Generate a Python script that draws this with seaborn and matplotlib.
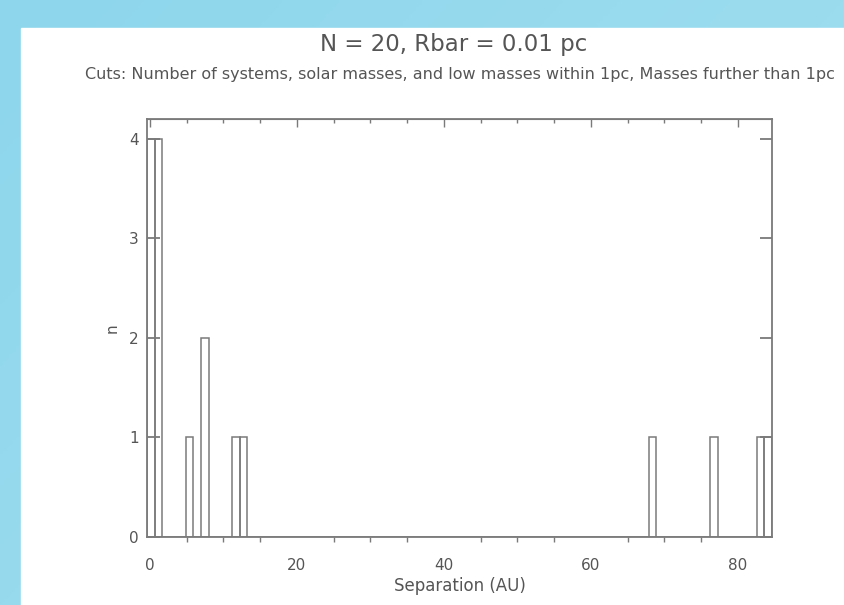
import numpy as np
import pandas as pd
import matplotlib.pyplot as plt
import seaborn as sns
from matplotlib.ticker import MultipleLocator

# Separazioni (centro del bin, AU) e conteggi
separations = [0.06, 1.07, 4.94, 7.05, 11.95, 13.05, 68.75, 76.75, 82.77, 83.97]
counts = [4, 4, 1, 2, 1, 1, 1, 1, 1, 1]
bin_start = -0.41
bin_stop = 84.64
bin_width = 1.05

title = 'N = 20, Rbar = 0.01 pc'
subtitle = 'Cuts: Number of systems, solar masses, and low masses within 1pc, Masses further than 1pc'

line_col = '#7a7a7a'
text_col = '#555555'

df = pd.DataFrame({'sep': separations, 'n': counts})

sns.set_style('white')
plt.rcParams['font.family'] = ['DejaVu Sans']

fig = plt.figure(figsize=(8.45, 6.05), dpi=100)

# sfondo azzurro sfumato + pannello bianco
bg = fig.add_axes([0, 0, 1, 1], zorder=-10)
grad = np.linspace(0, 1, 256)
gx, gy = np.meshgrid(grad, grad)
bg.imshow(gx * 0.6 + (1 - gy) * 0.4, cmap=plt.matplotlib.colors.LinearSegmentedColormap.from_list(
    'bl', ['#8dd6ec', '#a6e0f1']), aspect='auto', extent=[0, 1, 0, 1], origin='lower')
bg.add_patch(plt.Rectangle((21 / 845, 0), 1, (605 - 28) / 605, color='white', zorder=2))
bg.set_xlim(0, 1)
bg.set_ylim(0, 1)
bg.axis('off')

ax = fig.add_axes([147 / 845, (605 - 537) / 605, (772 - 147) / 845, (537 - 119) / 605])
sns.histplot(data=df, x='sep', weights='n', binwidth=bin_width, binrange=(bin_start, bin_stop),
             fill=False, element='bars', color=line_col, linewidth=1.1, ax=ax)

ax.set_xlim(bin_start, bin_stop)
ax.set_ylim(0, 4.2)
ax.set_xticks([0, 20, 40, 60, 80])
ax.xaxis.set_minor_locator(MultipleLocator(5))
ax.set_yticks([0, 1, 2, 3, 4])
ax.set_xlabel('Separation (AU)', fontsize=12, color=text_col, labelpad=3)
ax.set_ylabel('n', fontsize=11, color=text_col, labelpad=7)

for s in ax.spines.values():
    s.set_visible(True)
    s.set_color(line_col)
    s.set_linewidth(1.3)

ax.tick_params(axis='x', which='major', direction='out', length=7.2, width=1, color=line_col,
               labelsize=11, labelcolor=text_col, pad=8)
ax.tick_params(axis='x', which='minor', direction='out', length=3.6, width=1, color=line_col, bottom=True)
ax.tick_params(axis='y', which='major', direction='in', length=9, width=1.3, color=line_col,
               left=True, right=True, labelsize=11, labelcolor=text_col, pad=6)

top = ax.secondary_xaxis('top')
top.set_xticks([0, 20, 40, 60, 80])
top.xaxis.set_minor_locator(MultipleLocator(5))
top.tick_params(which='major', direction='in', length=5.6, width=1, color=line_col, labeltop=False)
top.tick_params(which='minor', direction='in', length=3, width=1, color=line_col)
top.spines['top'].set_color(line_col)

fig.text(0.537, 1 - 45 / 605, title, ha='center', va='center', fontsize=16.5, color=text_col)
fig.text(0.544, 1 - 75 / 605, subtitle, ha='center', va='center', fontsize=11.5, color=text_col)

fig.savefig('out.png', dpi=100)
